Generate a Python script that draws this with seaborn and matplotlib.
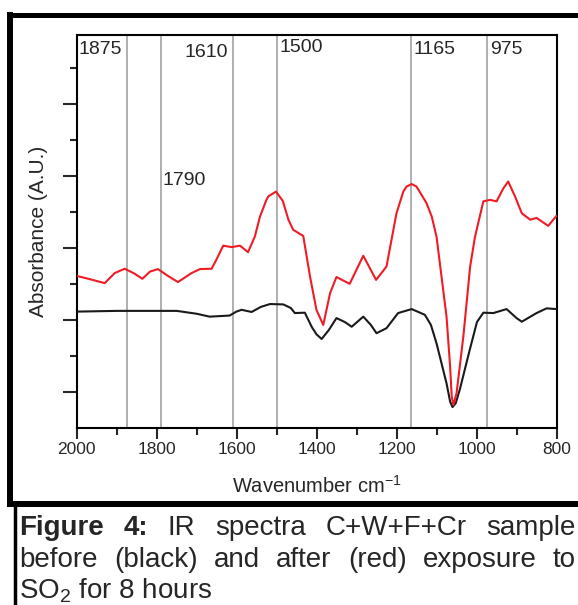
import numpy as np
import pandas as pd
import matplotlib
matplotlib.use("Agg")
import matplotlib.pyplot as plt
from matplotlib.lines import Line2D
import seaborn as sns

# spectra (wavenumber cm-1, absorbance in a.u.)
wn_after = [2000, 1967, 1930, 1905, 1880, 1855, 1836, 1817, 1797, 1772, 1747, 1713,
            1692, 1663, 1651, 1634, 1613, 1592, 1572, 1555, 1542, 1526, 1521, 1502,
            1485, 1471, 1459, 1434, 1417, 1401, 1384, 1367, 1351, 1318, 1284, 1252,
            1226, 1201, 1184, 1176, 1163, 1151, 1126, 1113, 1101, 1076, 1067, 1063,
            1059, 1051, 1043, 1034, 1017, 1005, 984, 967, 951, 934, 922, 905,
            888, 867, 851, 822, 801]
abs_after = [4.22, 4.13, 4.02, 4.30, 4.42, 4.28, 4.14, 4.34, 4.41, 4.22, 4.05, 4.30,
             4.41, 4.42, 4.67, 5.06, 5.02, 5.06, 4.88, 5.31, 5.87, 6.33, 6.43, 6.56,
             6.30, 5.78, 5.50, 5.33, 4.20, 3.28, 2.86, 3.74, 4.19, 4.00, 4.78, 4.11,
             4.48, 5.96, 6.56, 6.70, 6.77, 6.70, 6.24, 5.87, 5.31, 3.09, 1.70, 0.87,
             0.64, 0.96, 1.70, 2.54, 4.48, 5.30, 6.29, 6.33, 6.29, 6.65, 6.84, 6.43,
             5.96, 5.78, 5.83, 5.61, 5.89]

wn_before = [2000, 1900, 1800, 1750, 1700, 1668, 1618, 1601, 1588, 1563, 1540, 1517,
             1484, 1465, 1455, 1430, 1413, 1401, 1388, 1370, 1351, 1330, 1313, 1284,
             1265, 1251, 1226, 1197, 1163, 1130, 1115, 1101, 1076, 1067, 1061, 1053,
             1043, 1018, 1000, 984, 959, 926, 901, 888, 851, 826, 801]
abs_before = [3.23, 3.25, 3.25, 3.25, 3.17, 3.09, 3.12, 3.23, 3.28, 3.22, 3.36, 3.44,
              3.43, 3.33, 3.19, 3.20, 2.81, 2.60, 2.47, 2.72, 3.05, 2.94, 2.81, 3.09,
              2.86, 2.63, 2.77, 3.19, 3.30, 3.14, 2.86, 2.35, 1.24, 0.73, 0.58, 0.69,
              1.06, 2.17, 2.94, 3.20, 3.19, 3.30, 3.05, 2.95, 3.19, 3.32, 3.30]

marked_wn = [1875, 1790, 1610, 1500, 1165, 975]

sns.set_style("ticks")
plt.rcParams['font.family'] = ['Liberation Sans', 'DejaVu Sans']
plt.rcParams['mathtext.fontset'] = 'custom'
plt.rcParams['mathtext.rm'] = 'Liberation Sans'

W, H = 578, 605
fig = plt.figure(figsize=(W / 100, H / 100), dpi=100)
ax = fig.add_axes([76.7 / W, 1 - 428 / H, (557 - 76.7) / W, (428 - 34.5) / H])

for w in marked_wn:
    ax.axvline(w, color="#9a9a9a", lw=1.1, zorder=1)

sns.lineplot(x=wn_before, y=abs_before, color="#1a1a1a", lw=1.5, ax=ax, zorder=3)
sns.lineplot(x=wn_after, y=abs_after, color="#ee1c24", lw=1.5, ax=ax, zorder=4)

ax.set_xlim(2000, 800)
ax.set_ylim(0, 10.92)
ax.set_xticks(np.arange(2000, 799, -200))
ax.set_xticks(np.arange(1900, 800, -200), minor=True)
ax.set_yticks([1, 3, 5, 7, 9])
ax.set_yticks([2, 4, 6, 8, 10], minor=True)
ax.set_yticklabels([])
ax.tick_params(axis="x", which="major", length=8, width=1.5, labelsize=12.5, pad=2, direction="out")
ax.tick_params(axis="x", which="minor", length=5, width=1.5, direction="out")
ax.tick_params(axis="y", which="major", length=10, width=1.5, direction="out")
ax.tick_params(axis="y", which="minor", length=5, width=1.5, direction="out")
for s in ax.spines.values():
    s.set_linewidth(1.5)
    s.set_color("black")

ax.set_xlabel(r"Wavenumber cm$^{\mathregular{-1}}$", fontsize=14.5, labelpad=13)
ax.set_ylabel("Absorbance (A.U.)", fontsize=15, labelpad=7)

# peak annotations
tr = ax.get_xaxis_transform()
fs = 14
ax.text(1875 + 12.5, 0.962, "1875", transform=tr, ha="right", va="center", fontsize=fs)
ax.text(1610 + 12.5, 0.954, "1610", transform=tr, ha="right", va="center", fontsize=fs)
ax.text(1500 - 7.5, 0.968, "1500", transform=tr, ha="left", va="center", fontsize=fs)
ax.text(1165 - 7.5, 0.962, "1165", transform=tr, ha="left", va="center", fontsize=fs)
ax.text(975 - 7.5, 0.962, "975", transform=tr, ha="left", va="center", fontsize=fs)
ax.text(1790 - 5, 0.630, "1790", transform=tr, ha="left", va="center", fontsize=fs)

# frame around the figure and caption rule
def px_line(x0, y0, x1, y1, lw):
    fig.add_artist(Line2D([x0 / W, x1 / W], [1 - y0 / H, 1 - y1 / H],
                          transform=fig.transFigure, color="black", lw=lw,
                          solid_capstyle="projecting"))

px_line(10, 15, 590, 15, 3.6)
px_line(10, 15, 10, 503.5, 4.3)
px_line(10, 503.5, 590, 503.5, 4.3)
px_line(15, 507, 15, 610, 2.5)

# justified caption: words spread between left rule and right edge
cap_size = 20
line1 = [("Figure", "bold"), ("4:", "bold"), ("IR", "normal"), ("spectra", "normal"),
         ("C+W+F+Cr", "normal"), ("sample", "normal")]
line2 = [("before", "normal"), ("(black)", "normal"), ("and", "normal"), ("after", "normal"),
         ("(red)", "normal"), ("exposure", "normal"), ("to", "normal")]

renderer = fig.canvas.get_renderer()
x_left, x_right = 19, 576
for words, base in [(line1, 535), (line2, 567)]:
    texts = [fig.text(0, 1 - base / H, t, fontsize=cap_size, fontweight=wt,
                      ha="left", va="baseline") for t, wt in words]
    widths = [t.get_window_extent(renderer).width for t in texts]
    gap = (x_right - x_left - sum(widths)) / (len(texts) - 1)
    x = x_left
    for t, wd in zip(texts, widths):
        t.set_x(x / W)
        x += wd + gap

fig.text(x_left / W, 1 - 598 / H, r"SO$_{\mathregular{2}}$ for 8 hours", fontsize=cap_size,
         ha="left", va="baseline")

fig.savefig("out.png", dpi=100)
